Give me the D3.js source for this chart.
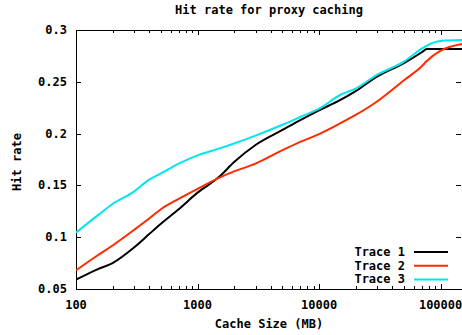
<!DOCTYPE html>
<html><head><meta charset="utf-8">
<script src="https://cdn.jsdelivr.net/npm/d3@7"></script>
<style>
html,body{margin:0;padding:0;background:#fff;}
svg{display:block;}
text{font-family:"DejaVu Sans Mono","Liberation Mono",monospace;font-weight:bold;font-size:12px;fill:#000;}
</style></head>
<body><svg id="chart" width="462" height="335"></svg>
<script>
const cacheSizes = [100, 150, 200, 300, 400, 500, 700, 1000, 1500, 2000, 3000, 5000, 7000, 10000, 15000, 20000, 30000, 50000, 70000, 77000, 100000, 150000];
const trace1 = [0.059, 0.069, 0.075, 0.090, 0.103, 0.113, 0.127, 0.143, 0.158, 0.1725, 0.189, 0.2035, 0.213, 0.2225, 0.2325, 0.241, 0.255, 0.268, 0.2785, 0.2817, 0.2817, 0.2817];
const trace2 = [0.068, 0.0823, 0.092, 0.107, 0.118, 0.127, 0.137, 0.1466, 0.1572, 0.1635, 0.171, 0.184, 0.192, 0.1995, 0.210, 0.218, 0.231, 0.2515, 0.265, 0.270, 0.280, 0.2865];
const trace3 = [0.1044, 0.1208, 0.132, 0.144, 0.1555, 0.1615, 0.171, 0.179, 0.1855, 0.1905, 0.198, 0.2085, 0.216, 0.224, 0.2375, 0.2435, 0.2567, 0.2695, 0.282, 0.285, 0.2895, 0.2903];
const seriesNames = ["Trace 1", "Trace 2", "Trace 3"];
const seriesColors = ["#000000", "#ff2a00", "#00e6ee"];
const xTicks = [100, 1000, 10000, 100000];
const yTicks = [0.05, 0.1, 0.15, 0.2, 0.25, 0.3];
const title = "Hit rate for proxy caching";
const xLabel = "Cache Size (MB)";
const yLabel = "Hit rate";

const svg = d3.select("#chart");
const L = 76, R = 462, T = 30, B = 289;
const x = d3.scaleLog().domain([100, 150000]).range([L, R]);
const y = d3.scaleLinear().domain([0.05, 0.3]).range([B, T]);

// title
svg.append("text").attr("x", 269).attr("y", 14).attr("text-anchor", "middle").text(title);

// ticks
const g = svg.append("g").attr("stroke", "#000").attr("stroke-width", 1).attr("shape-rendering", "crispEdges");
const minor = [];
for (let d = 100; d < 150000; d *= 10) for (let k = 2; k <= 9; k++) if (d * k <= 150000) minor.push(d * k);
minor.forEach(v => {
  const px = Math.round(x(v)) + 0.5;
  g.append("line").attr("x1", px).attr("x2", px).attr("y1", B).attr("y2", B - 3);
  g.append("line").attr("x1", px).attr("x2", px).attr("y1", T).attr("y2", T + 3);
});
xTicks.forEach(v => {
  const px = Math.round(x(v)) + 0.5;
  g.append("line").attr("x1", px).attr("x2", px).attr("y1", B).attr("y2", B - 5);
  g.append("line").attr("x1", px).attr("x2", px).attr("y1", T).attr("y2", T + 5);
  svg.append("text").attr("x", x(v)).attr("y", 309).attr("text-anchor", "middle").text(d3.format("d")(v));
});
yTicks.forEach(v => {
  const py = Math.round(y(v)) + 0.5;
  g.append("line").attr("x1", L).attr("x2", L + 5).attr("y1", py).attr("y2", py);
  g.append("line").attr("x1", R - 1).attr("x2", R - 6).attr("y1", py).attr("y2", py);
  svg.append("text").attr("x", 67).attr("y", y(v) + 4).attr("text-anchor", "end").text(String(v));
});
// border
g.append("rect").attr("x", L + 0.5).attr("y", T + 0.5).attr("width", R - L).attr("height", B - T).attr("fill", "none");

// axis labels
svg.append("text").attr("x", 269).attr("y", 328).attr("text-anchor", "middle").text(xLabel);
svg.append("text").attr("transform", "translate(21,162) rotate(-90)").attr("text-anchor", "middle").text(yLabel);

// lines
svg.append("clipPath").attr("id", "clip").append("rect").attr("x", L).attr("y", T).attr("width", R - L).attr("height", B - T);
const line = d3.line().x(d => x(d[0])).y(d => y(d[1])).curve(d3.curveMonotoneX);
[trace1, trace2, trace3].forEach((s, i) => {
  svg.append("path").attr("clip-path", "url(#clip)")
    .attr("d", line(cacheSizes.map((c, j) => [c, s[j]])))
    .attr("fill", "none").attr("stroke", seriesColors[i]).attr("stroke-width", 2).attr("stroke-linejoin", "round");
});

// legend
seriesNames.forEach((n, i) => {
  const ly = 252 + i * 13.7;
  svg.append("text").attr("x", 405).attr("y", ly + 4).attr("text-anchor", "end").text(n);
  svg.append("line").attr("x1", 414).attr("x2", 448).attr("y1", ly).attr("y2", ly)
    .attr("stroke", seriesColors[i]).attr("stroke-width", 2);
});
</script></body></html>
